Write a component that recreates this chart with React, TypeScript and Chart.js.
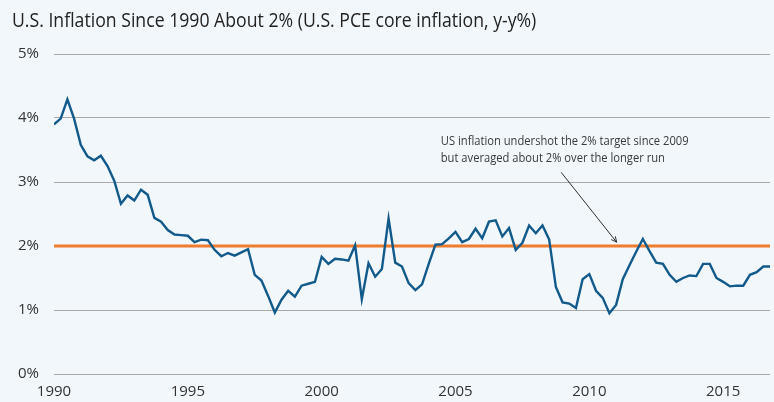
import React, { useEffect, useRef } from 'react';
import { Chart, registerables } from 'chart.js';

Chart.register(...registerables);

// ---- data ----
const START_YEAR = 1990;
const PERIODS_PER_YEAR = 4;
const END_YEAR = 2016.75;
const CORE_PCE = [
  3.90, 3.99, 4.29, 3.99, 3.58, 3.40, 3.34, 3.41, 3.25, 3.02,
  2.66, 2.79, 2.71, 2.88, 2.80, 2.44, 2.38, 2.25, 2.18, 2.17,
  2.16, 2.06, 2.10, 2.09, 1.94, 1.84, 1.89, 1.85, 1.90, 1.95,
  1.55, 1.46, 1.22, 0.96, 1.16, 1.30, 1.21, 1.38, 1.41, 1.44,
  1.83, 1.72, 1.80, 1.79, 1.77, 2.01, 1.17, 1.73, 1.52, 1.64,
  2.43, 1.74, 1.68, 1.42, 1.31, 1.40, 1.72, 2.02, 2.03, 2.12,
  2.22, 2.06, 2.11, 2.27, 2.12, 2.38, 2.40, 2.15, 2.28, 1.94,
  2.05, 2.32, 2.20, 2.32, 2.10, 1.36, 1.12, 1.10, 1.03, 1.48,
  1.56, 1.30, 1.19, 0.95, 1.08, 1.48, 1.70, 1.91, 2.11, 1.92,
  1.74, 1.72, 1.55, 1.44, 1.50, 1.54, 1.53, 1.72, 1.72, 1.50,
  1.44, 1.37, 1.38, 1.38, 1.55, 1.59, 1.68, 1.68,
];
const TARGET = 2;
const Y_TICKS = [0, 1, 2, 3, 4, 5];
const X_TICK_YEARS = [1990, 1995, 2000, 2005, 2010, 2015];
const TITLE = 'U.S. Inflation Since 1990 About 2% (U.S. PCE core inflation, y-y%)';
const NOTE_LINES = [
  'US inflation undershot the 2% target since 2009',
  'but averaged about 2% over the longer run',
];
const NOTE_POS = { x: 2004.45, y: 3.63, lineGap: 0.26 };
const ARROW = { fromX: 2008.95, fromY: 3.15, toX: 2011.02, toY: 2.06 };

// ---- style ----
const FONT = "'Open Sans', 'Noto Sans', sans-serif";
const BG = '#f2f7fb';
const TEXT = '#333333';
const BLUE = '#125a8c';
const ORANGE = '#ef7d2d';
const GRID = '#a8a8a8';
const TITLE_SQUEEZE = 0.883;
const NOTE_SQUEEZE = 0.86;

const W = 774;
const H = 402;

export default function App() {
  const ref = useRef<HTMLCanvasElement | null>(null);

  useEffect(() => {
    document.body.style.margin = '0';
    const canvas = ref.current;
    if (!canvas) return;

    const points = CORE_PCE.map((v, i) => ({ x: START_YEAR + i / PERIODS_PER_YEAR, y: v }));
    const target = [
      { x: START_YEAR, y: TARGET },
      { x: END_YEAR, y: TARGET },
    ];

    const decor = {
      id: 'decor',
      beforeDraw(chart: any) {
        const c = chart.ctx;
        c.save();
        c.fillStyle = BG;
        c.fillRect(0, 0, chart.width, chart.height);
        c.restore();
      },
      afterDraw(chart: any) {
        const c = chart.ctx;
        const xs = chart.scales.x;
        const ys = chart.scales.y;
        // title
        c.save();
        c.fillStyle = '#222222';
        c.font = `20px ${FONT}`;
        c.textAlign = 'left';
        c.textBaseline = 'alphabetic';
        c.translate(12, 27);
        c.scale(TITLE_SQUEEZE, 1);
        c.fillText(TITLE, 0, 0);
        c.restore();
        // note
        c.save();
        c.fillStyle = '#3a3a3a';
        c.font = `13px ${FONT}`;
        c.textAlign = 'left';
        c.textBaseline = 'middle';
        NOTE_LINES.forEach((t, k) => {
          c.save();
          c.translate(xs.getPixelForValue(NOTE_POS.x), ys.getPixelForValue(NOTE_POS.y - k * NOTE_POS.lineGap));
          c.scale(NOTE_SQUEEZE, 1);
          c.fillText(t, 0, 0);
          c.restore();
        });
        c.restore();
        // arrow
        c.save();
        const x1 = xs.getPixelForValue(ARROW.fromX);
        const y1 = ys.getPixelForValue(ARROW.fromY);
        const x2 = xs.getPixelForValue(ARROW.toX);
        const y2 = ys.getPixelForValue(ARROW.toY);
        c.strokeStyle = '#1a1a1a';
        c.lineWidth = 0.9;
        c.beginPath();
        c.moveTo(x1, y1);
        c.lineTo(x2, y2);
        const ang = Math.atan2(y2 - y1, x2 - x1);
        const hl = 6;
        c.moveTo(x2 - hl * Math.cos(ang - 0.45), y2 - hl * Math.sin(ang - 0.45));
        c.lineTo(x2, y2);
        c.lineTo(x2 - hl * Math.cos(ang + 0.45), y2 - hl * Math.sin(ang + 0.45));
        c.stroke();
        c.restore();
      },
    };

    const chart = new Chart(canvas, {
      type: 'line',
      data: {
        datasets: [
          {
            data: points,
            borderColor: BLUE,
            borderWidth: 2.4,
            pointRadius: 0,
            tension: 0,
            fill: false,
          },
          {
            data: target,
            borderColor: ORANGE,
            borderWidth: 3,
            pointRadius: 0,
            fill: false,
          },
        ],
      },
      options: {
        responsive: false,
        animation: false,
        events: [],
        layout: { padding: { top: 54, left: 0, right: 4, bottom: 0 } },
        plugins: {
          legend: { display: false },
          tooltip: { enabled: false },
          title: { display: false },
        },
        scales: {
          x: {
            type: 'linear',
            min: START_YEAR,
            max: END_YEAR,
            grid: { display: false, drawTicks: false },
            border: { display: false },
            afterBuildTicks(scale: any) {
              scale.ticks = X_TICK_YEARS.map((v) => ({ value: v }));
            },
            afterFit(scale: any) {
              scale.height = 28;
            },
            ticks: {
              autoSkip: false,
              maxRotation: 0,
              padding: 9,
              color: TEXT,
              font: { family: FONT, size: 15 },
              callback: (v: any) => String(v),
            },
          },
          y: {
            min: Y_TICKS[0],
            max: Y_TICKS[Y_TICKS.length - 1],
            afterBuildTicks(scale: any) {
              scale.ticks = Y_TICKS.map((v) => ({ value: v }));
            },
            afterFit(scale: any) {
              scale.width = 54;
            },
            grid: { color: GRID, lineWidth: 1, drawTicks: false },
            border: { display: false },
            ticks: {
              padding: 15,
              color: TEXT,
              font: { family: FONT, size: 15 },
              callback: (v: any) => `${v}%`,
            },
          },
        },
      },
      plugins: [decor],
    } as any);

    return () => chart.destroy();
  }, []);

  return (
    <div style={{ position: 'fixed', left: 0, top: 0, width: W, height: H, background: BG }}>
      <canvas ref={ref} width={W} height={H} style={{ display: 'block', width: W, height: H }} />
    </div>
  );
}
